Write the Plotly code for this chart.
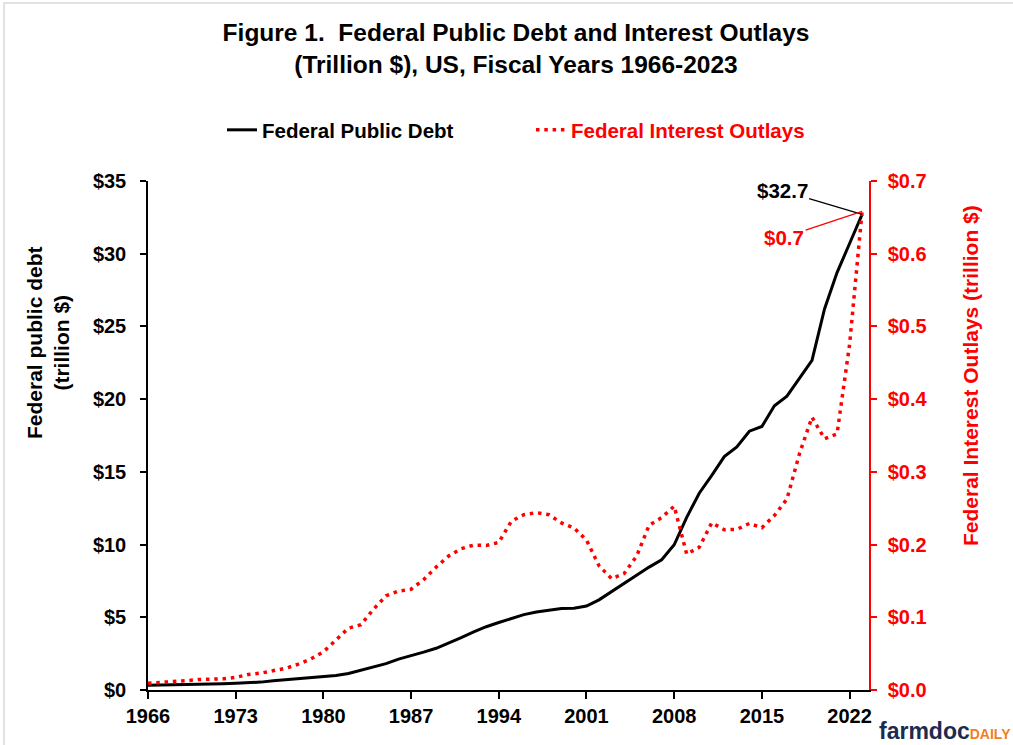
import plotly.graph_objects as go

# -------- DATA --------
years = list(range(1966, 2024))

# Federal public debt, trillion $
debt = [0.329, 0.340, 0.369, 0.366, 0.381, 0.408, 0.436, 0.466, 0.484, 0.542,
        0.629, 0.706, 0.777, 0.830, 0.909, 0.995, 1.137, 1.372, 1.565, 1.817,
        2.121, 2.346, 2.601, 2.868, 3.206, 3.598, 4.002, 4.351, 4.643, 4.921,
        5.182, 5.369, 5.478, 5.606, 5.629, 5.770, 6.198, 6.760, 7.355, 7.905,
        8.451, 8.951, 9.986, 11.876, 13.529, 14.764, 16.051, 16.719, 17.795, 18.120,
        19.540, 20.206, 21.462, 22.670, 26.2, 28.7, 30.7, 32.7]

# Federal interest outlays, trillion $
interest = [0.0094, 0.0103, 0.0111, 0.0127, 0.0144, 0.0148, 0.0155, 0.0173, 0.0214, 0.0232,
            0.0267, 0.0299, 0.0355, 0.0426, 0.0525, 0.0688, 0.0850, 0.0898, 0.1111, 0.1295,
            0.1360, 0.1386, 0.1518, 0.1690, 0.1843, 0.1944, 0.1993, 0.1987, 0.2029, 0.2321,
            0.2411, 0.2440, 0.2411, 0.2298, 0.2229, 0.2062, 0.1709, 0.1531, 0.1602, 0.1840,
            0.2266, 0.2371, 0.2528, 0.1869, 0.1962, 0.2300, 0.2204, 0.2209, 0.2290, 0.2232,
            0.2400, 0.2626, 0.3250, 0.3752, 0.3455, 0.3523, 0.4751, 0.6583]

x_ticks = list(range(1966, 2023, 7))

FONT = "Liberation Sans, Arial, sans-serif"
W, H = 1013, 745
L, R, T, B = 148, 144, 181, 55
plot_w = W - L - R
plot_h = H - T - B


def px_x(p):
    # page pixel -> paper x
    return (p - L) / plot_w


def px_y(p):
    # page pixel -> paper y
    return (H - B - p) / plot_h


fig = go.Figure()

fig.add_trace(go.Scatter(x=years, y=debt, mode="lines", name="Federal Public Debt",
                         line=dict(color="black", width=3), legend="legend"))
fig.add_trace(go.Scatter(x=years, y=interest, mode="lines", name="Federal Interest Outlays",
                         line=dict(color="#ff0000", width=3.5, dash="3.5px,4.8px"),
                         yaxis="y2", legend="legend2"))

fig.update_layout(
    width=W, height=H, autosize=False,
    margin=dict(l=L, r=R, t=T, b=B, autoexpand=False),
    paper_bgcolor="white", plot_bgcolor="white",
    showlegend=True,
    font=dict(family=FONT, size=20, color="black", weight="bold"),
    title=dict(text="Figure 1.  Federal Public Debt and Interest Outlays<br>(Trillion $), US, Fiscal Years 1966-2023",
               font=dict(size=24.5, family=FONT, color="black", weight="bold"),
               xref="container", x=516 / W, xanchor="center",
               yref="container", y=1 - 41 / H, yanchor="top"),
    legend=dict(orientation="h", xref="container", yref="container",
                x=222 / W, y=1 - 130 / H, xanchor="left", yanchor="middle",
                font=dict(size=20.5, color="black", family=FONT, weight="bold"),
                bgcolor="rgba(0,0,0,0)"),
    legend2=dict(orientation="h", xref="container", yref="container",
                 x=531 / W, y=1 - 130 / H, xanchor="left", yanchor="middle",
                 font=dict(size=20.5, color="#ff0000", family=FONT, weight="bold"),
                 bgcolor="rgba(0,0,0,0)"),
    xaxis=dict(range=[1966, 2023.55], tickvals=x_ticks, showgrid=False, zeroline=False,
               showline=True, linecolor="black", linewidth=1.5,
               ticks="outside", ticklen=7, tickwidth=1.5, tickcolor="black",
               ticklabelstandoff=0, automargin=False,
               tickfont=dict(size=20, color="black", family=FONT, weight="bold")),
    yaxis=dict(range=[0, 35], dtick=5, tickprefix="$", showgrid=False, zeroline=False,
               showline=True, linecolor="black", linewidth=1.5,
               ticks="outside", ticklen=6, tickwidth=1.5, tickcolor="black",
               ticklabelstandoff=10, automargin=False,
               tickfont=dict(size=20, color="black", family=FONT, weight="bold")),
    yaxis2=dict(range=[0, 0.7], dtick=0.1, tickformat=".1f", tickprefix="$",
                overlaying="y", side="right", showgrid=False, zeroline=False,
                showline=True, linecolor="#ff0000", linewidth=1.5,
                ticks="outside", ticklen=6, tickwidth=1.5, tickcolor="#ff0000",
                ticklabelstandoff=7, automargin=False,
                tickfont=dict(size=20, color="#ff0000", family=FONT, weight="bold")),
)

# axis titles
fig.add_annotation(text="Federal public debt<br>(trillion $)", textangle=-90,
                   xref="paper", yref="paper", x=px_x(48), y=px_y(343),
                   xanchor="center", yanchor="middle", showarrow=False,
                   font=dict(size=21, color="black", family=FONT, weight="bold"))
fig.add_annotation(text="Federal Interest Outlays (trillion $)", textangle=-90,
                   xref="paper", yref="paper", x=px_x(970), y=px_y(376),
                   xanchor="center", yanchor="middle", showarrow=False,
                   font=dict(size=21, color="#ff0000", family=FONT, weight="bold"))

# end-point labels
fig.add_annotation(text="$32.7", x=years[-1], y=debt[-1], xref="x", yref="y",
                   ax=-80, ay=-24, showarrow=True, arrowhead=0, arrowwidth=1.3,
                   arrowcolor="black", standoff=0,
                   font=dict(size=20.5, color="black", family=FONT, weight="bold"))
fig.add_annotation(text="$0.7", x=years[-1], y=interest[-1], xref="x", yref="y2",
                   ax=-78, ay=26, showarrow=True, arrowhead=0, arrowwidth=1.3,
                   arrowcolor="#ff0000", standoff=0,
                   font=dict(size=20.5, color="#ff0000", family=FONT, weight="bold"))

# farmdoc daily mark
fig.add_annotation(text="farmdoc<span style='color:#f07f1f;font-size:14px'>DAILY</span>",
                   xref="paper", yref="paper", x=px_x(877), y=px_y(731),
                   xanchor="left", yanchor="middle", showarrow=False,
                   font=dict(size=23, color="#1d2b4f", family=FONT, weight="bold"))

# light chart-area frame
fig.add_shape(type="rect", xref="paper", yref="paper",
              x0=px_x(4), x1=px_x(1030), y0=px_y(760), y1=px_y(3),
              line=dict(color="#d9d9d9", width=1.5), layer="below")

# page body has an 8px default margin; drop it so the figure sits at the window corner
fig.write_html("out.html", config={"displayModeBar": False},
               post_script="document.body.style.margin='0';")
